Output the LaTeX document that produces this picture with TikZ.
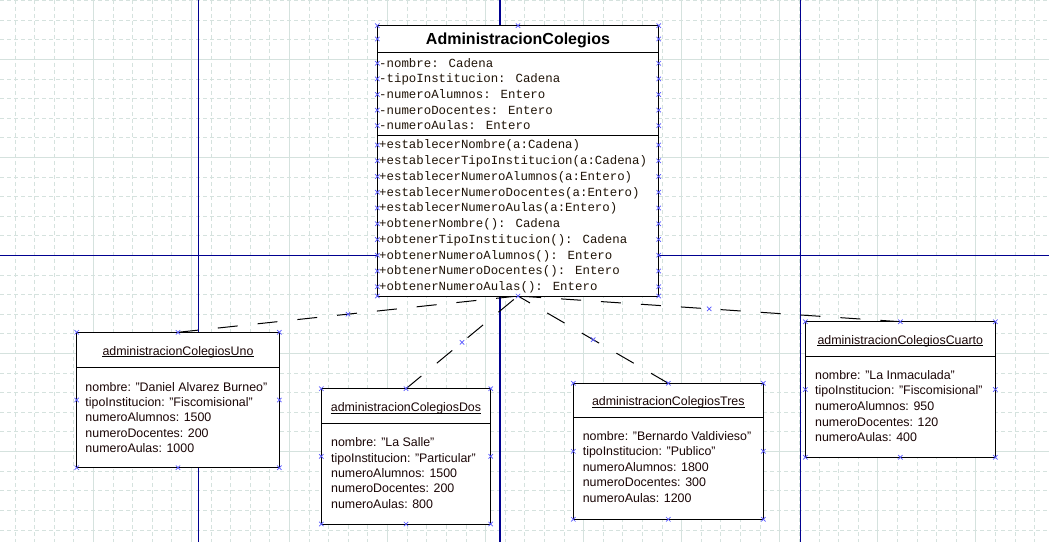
\documentclass[tikz,border=0pt]{standalone}
\usepackage{fontspec}
\setmainfont{Liberation Sans}
\newfontfamily\monof{Liberation Mono}
\usetikzlibrary{calc}
\definecolor{gridc}{HTML}{D5E2DE}
\definecolor{navyc}{HTML}{000090}
\definecolor{mkc}{HTML}{5555FF}
\definecolor{txtc}{HTML}{1A0505}
\definecolor{clstxt}{HTML}{201408}
\tikzset{
  umlbox/.style={rectangle, draw=black, fill=white, line width=1bp, inner sep=0pt, outer sep=0pt},
  boxline/.style={draw=black, line width=1bp},
  conn/.style={draw=black, line width=1bp, dash pattern=on 20bp off 20bp},
  gridminor/.style={draw=gridc, line width=0.8bp, dash pattern=on 4bp off 3bp},
  gridmajor/.style={draw=gridc, line width=1bp},
  navyline/.style={draw=navyc, line width=1.3bp},
  clstitle/.style={font=\fontsize{16bp}{18bp}\selectfont\bfseries, text=black, inner sep=0pt, anchor=base},
  clsrow/.style={font=\monof\fontsize{12.4bp}{15bp}\selectfont, text=clstxt, inner sep=0pt, anchor=base west},
  objtitle/.style={font=\fontsize{12.4bp}{15bp}\selectfont, text=txtc, inner sep=0pt, anchor=base},
  objrow/.style={font=\fontsize{12.4bp}{15bp}\selectfont, text=txtc, inner sep=0pt, anchor=base west},
  mk/.pic={\draw[mkc, line width=0.7bp] (-2.2,-2.2) -- (2.2,2.2) (-2.2,2.2) -- (2.2,-2.2);}
}
\begin{document}
\begin{tikzpicture}[x=1bp,y=-1bp]
\useasboundingbox[fill=white] (0,0) rectangle (1049,542);
% grid
\foreach \k in {0,...,52} \draw[gridminor] ({14.9+19.61*\k},0) -- ({14.9+19.61*\k},542);
\foreach \k in {0,...,27} \draw[gridminor] (0,{0.47+19.61*\k}) -- (1049,{0.47+19.61*\k});
\foreach \k in {0,...,9} \draw[gridmajor] ({93.3+98.05*\k},0) -- ({93.3+98.05*\k},542);
\foreach \k in {0,...,4} \draw[gridmajor] (0,{59.3+98.05*\k}) -- (1049,{59.3+98.05*\k});
% navy guide lines
\draw[navyline] (198.3,0) -- (198.3,542);
\draw[navyline] (500,0) -- (500,542);
\draw[navyline] (800.3,0) -- (800.3,542);
\draw[navyline] (0,255.3) -- (1049,255.3);

% object boxes (placed first so connectors can refer to them)
\node[umlbox, minimum width=202.6bp, minimum height=135.4bp] (uno) at (178,400) {};
\node[umlbox, minimum width=169.4bp, minimum height=135.3bp] (dos) at (406,456.35) {};
\node[umlbox, minimum width=190bp, minimum height=136bp] (tres) at (668.3,451.3) {};
\node[umlbox, minimum width=190bp, minimum height=135.6bp] (cuarto) at (900.3,389.5) {};
\node[umlbox, minimum width=281.4bp, minimum height=270.3bp] (cls) at (518,160.85) {};

% connectors
\draw[conn] (uno.north) -- coordinate[pos=0.5] (m1) (cls.south);
\draw[conn] (dos.north) -- coordinate[pos=0.5] (m2) (cls.south);
\draw[conn] (tres.north) -- coordinate[pos=0.5] (m3) (cls.south);
\draw[conn] (cuarto.north) -- coordinate[pos=0.5] (m4) (cls.south);

% redraw boxes on top of connectors
\node[umlbox, minimum width=202.6bp, minimum height=135.4bp] (unoB) at (uno) {};
\node[umlbox, minimum width=169.4bp, minimum height=135.3bp] (dosB) at (dos) {};
\node[umlbox, minimum width=190bp, minimum height=136bp] (tresB) at (tres) {};
\node[umlbox, minimum width=190bp, minimum height=135.6bp] (cuartoB) at (cuarto) {};
\node[umlbox, minimum width=281.4bp, minimum height=270.3bp] (clsB) at (cls) {};

% class box content
\node[clstitle] (clsT) at (518,45) {AdministracionColegios};
\draw[boxline] ($(cls.north west)+(0,27.3)$) -- ($(cls.north east)+(0,27.3)$);
\draw[boxline] ($(cls.north west)+(0,109.6)$) -- ($(cls.north east)+(0,109.6)$);
\foreach \t [count=\i] in {{-nombre: Cadena},{-tipoInstitucion: Cadena},{-numeroAlumnos: Entero},{-numeroDocentes: Entero},{-numeroAulas: Entero}}
  \node[clsrow] (attr\i) at (379,{67.3+15.6*(\i-1)}) {\t};
\foreach \t [count=\i] in {{+establecerNombre(a:Cadena)},{+establecerTipoInstitucion(a:Cadena)},{+establecerNumeroAlumnos(a:Entero)},{+establecerNumeroDocentes(a:Entero)},{+establecerNumeroAulas(a:Entero)},{+obtenerNombre(): Cadena},{+obtenerTipoInstitucion(): Cadena},{+obtenerNumeroAlumnos(): Entero},{+obtenerNumeroDocentes(): Entero},{+obtenerNumeroAulas(): Entero}}
  \node[clsrow] (meth\i) at (379,{149+15.75*(\i-1)}) {\t};

% object: uno
\node[objtitle] (unoT) at (178,355.5) {administracionColegiosUno};
\draw[boxline] ([yshift=-1.5bp]unoT.base west) -- ([yshift=-1.5bp]unoT.base east);
\draw[boxline] ($(uno.north west)+(0,35)$) -- ($(uno.north east)+(0,35)$);
\foreach \t [count=\i] in {{nombre: "Daniel Alvarez Burneo"},{tipoInstitucion: "Fiscomisional"},{numeroAlumnos: 1500},{numeroDocentes: 200},{numeroAulas: 1000}}
  \node[objrow] (unoR\i) at (85.3,{391+15.4*(\i-1)}) {\t};

% object: dos
\node[objtitle] (dosT) at (406,411.8) {administracionColegiosDos};
\draw[boxline] ([yshift=-1.5bp]dosT.base west) -- ([yshift=-1.5bp]dosT.base east);
\draw[boxline] ($(dos.north west)+(0,34.6)$) -- ($(dos.north east)+(0,34.6)$);
\foreach \t [count=\i] in {{nombre: "La Salle"},{tipoInstitucion: "Particular"},{numeroAlumnos: 1500},{numeroDocentes: 200},{numeroAulas: 800}}
  \node[objrow] (dosR\i) at (331,{446.6+15.4*(\i-1)}) {\t};

% object: tres
\node[objtitle] (tresT) at (668.3,405.5) {administracionColegiosTres};
\draw[boxline] ([yshift=-1.5bp]tresT.base west) -- ([yshift=-1.5bp]tresT.base east);
\draw[boxline] ($(tres.north west)+(0,34.7)$) -- ($(tres.north east)+(0,34.7)$);
\foreach \t [count=\i] in {{nombre: "Bernardo Valdivieso"},{tipoInstitucion: "Publico"},{numeroAlumnos: 1800},{numeroDocentes: 300},{numeroAulas: 1200}}
  \node[objrow] (tresR\i) at (582.6,{440.3+15.5*(\i-1)}) {\t};

% object: cuarto
\node[objtitle] (cuartoT) at (900.3,344.5) {administracionColegiosCuarto};
\draw[boxline] ([yshift=-1.5bp]cuartoT.base west) -- ([yshift=-1.5bp]cuartoT.base east);
\draw[boxline] ($(cuarto.north west)+(0,34.6)$) -- ($(cuarto.north east)+(0,34.6)$);
\foreach \t [count=\i] in {{nombre: "La Inmaculada"},{tipoInstitucion: "Fiscomisional"},{numeroAlumnos: 950},{numeroDocentes: 120},{numeroAulas: 400}}
  \node[objrow] (cuartoR\i) at (815,{379.3+15.6*(\i-1)}) {\t};

% handle markers
\foreach \b in {uno,dos,tres,cuarto}
  \foreach \a in {north west,north,north east,east,south east,south,south west,west}
    \pic at (\b.\a) {mk};
\foreach \yy in {25.7,39,63.3,78.9,94.5,110.1,125.7,145,160.75,176.5,192.25,208,223.75,239.5,255.25,271,286.75,296} {
  \pic at (377.3,\yy) {mk};
  \pic at (658.7,\yy) {mk};
}
\pic at (cls.north) {mk};
\pic at (cls.south) {mk};
\foreach \m in {m1,m2,m3,m4} \pic at (\m) {mk};
\end{tikzpicture}
\end{document}
